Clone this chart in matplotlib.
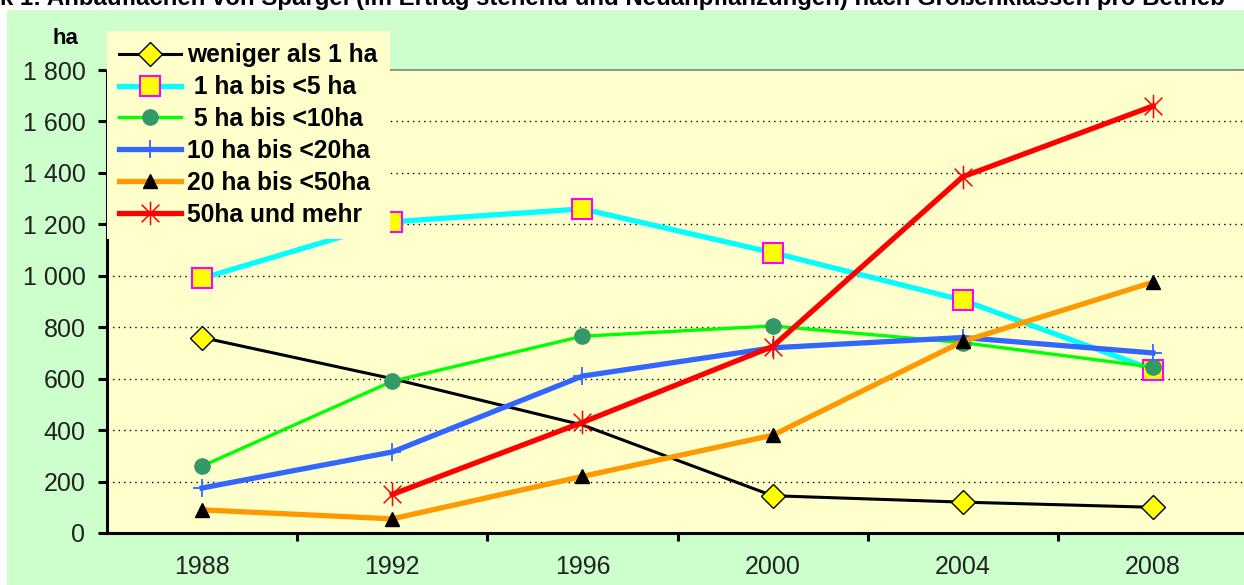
"""Anbauflächen von Spargel nach Größenklassen pro Betrieb."""
import matplotlib
matplotlib.use("Agg")
import matplotlib.pyplot as plt
from matplotlib.patches import Rectangle
from matplotlib.path import Path
from matplotlib.ticker import FuncFormatter, FixedLocator

plt.rcParams["font.family"] = ["Liberation Sans", "DejaVu Sans"]

# Data
years = ["1988", "1992", "1996", "2000", "2004", "2008"]
labels = ["weniger als 1 ha", " 1 ha bis <5 ha", " 5 ha bis <10ha",
          "10 ha bis <20ha", "20 ha bis <50ha", "50ha und mehr"]
unter_1 = [760, 600, 420, 145, 120, 100]
ha_1_5 = [990, 1210, 1260, 1090, 905, 635]
ha_5_10 = [260, 590, 765, 805, 740, 645]
ha_10_20 = [175, 315, 610, 720, 760, 700]
ha_20_50 = [90, 55, 220, 380, 745, 975]
ha_50_plus = [None, 150, 430, 725, 1385, 1660]
y_ticks = [0, 200, 400, 600, 800, 1000, 1200, 1400, 1600, 1800]

W, H = 1244, 585
fig = plt.figure(figsize=(W / 100, H / 100), dpi=100)
fig.patch.set_facecolor("white")

# green chart background
fig.patches.append(Rectangle((7 / W, 0), 1, 1 - 10 / H, transform=fig.transFigure,
                             facecolor="#CCFFCC", edgecolor="none", zorder=-10))

fig.text(1225 / W, 1 - 5 / H,
         "Grafik 1: Anbauflächen von Spargel (im Ertrag stehend und Neuanpflanzungen) "
         "nach Größenklassen pro Betrieb",
         ha="right", va="baseline", fontsize=17.3, fontweight="bold")

ax = fig.add_axes([107 / W, 52 / H, (1248 - 107) / W, (533 - 70) / H])
ax.set_facecolor("#FFFFCC")

# excel like star marker: vertical bar plus an x
star = Path([(0, -1), (0, 1), (-0.75, -0.75), (0.75, 0.75), (-0.75, 0.75), (0.75, -0.75)],
            [Path.MOVETO, Path.LINETO, Path.MOVETO, Path.LINETO, Path.MOVETO, Path.LINETO])

x = list(range(len(years)))
styles = [
    dict(color="black", lw=2.2, marker="D", ms=12, mfc="#FFFF00", mec="black", mew=1,
         markevery=[0, 3, 4, 5]),
    dict(color="#00FFFF", lw=3.8, marker="s", ms=15, mfc="#FFFF00", mec="#FF00FF", mew=1.5),
    dict(color="#00FF00", lw=2.4, marker="o", ms=11, mfc="#339966", mec="#339966"),
    dict(color="#3366FF", lw=3.8, marker="+", ms=13, mec="#3366FF", mew=1.3),
    dict(color="#FF9900", lw=3.8, marker="^", ms=10, mfc="black", mec="black"),
    dict(color="#FF0000", lw=3.8, marker=star, ms=17, mec="#FF0000", mew=1.1),
]
series = [unter_1, ha_1_5, ha_5_10, ha_10_20, ha_20_50, ha_50_plus]
for vals, lab, st in zip(series, labels, styles):
    xs = [i for i, v in zip(x, vals) if v is not None]
    ys = [v for v in vals if v is not None]
    ax.plot(xs, ys, label=lab, zorder=3, **st)

ax.set_xlim(-0.5, 5.5)
ax.set_ylim(0, 1800)
ax.set_yticks(y_ticks)
ax.yaxis.set_major_formatter(FuncFormatter(lambda v, p: f"{int(v):,}".replace(",", " ")))
ax.set_xticks(x)
ax.set_xticklabels(years)
ax.xaxis.set_minor_locator(FixedLocator([i + 0.5 for i in x]))

for v in y_ticks[1:-1]:
    ax.axhline(v, color="black", lw=1, ls=(0, (1, 3)), zorder=1)

ax.tick_params(axis="y", direction="out", length=6.5, width=2.2, pad=9,
               labelsize=18, labelcolor="#222222")
ax.tick_params(axis="x", which="major", length=0, pad=16, labelsize=18,
               labelcolor="#222222")
ax.tick_params(axis="x", which="minor", direction="out", length=6, width=2.2)

ax.spines["left"].set_linewidth(2.2)
ax.spines["bottom"].set_linewidth(2.2)
ax.spines["top"].set_color("#808080")
ax.spines["top"].set_linewidth(1.2)
ax.spines["right"].set_visible(False)

fig.text(65 / W, 1 - 39 / H, "ha", ha="center", va="center", fontsize=16, fontweight="bold")

leg = fig.legend(loc="upper left", bbox_to_anchor=(107 / W, 1 - 31 / H),
                 prop=dict(size=17.7, weight="bold"), frameon=True, fancybox=False,
                 facecolor="#FFFFCC", edgecolor="none", framealpha=1,
                 handlelength=2.5, handletextpad=0.25, labelspacing=0.32,
                 borderpad=0.5, borderaxespad=0)

fig.savefig("out.png", dpi=100, facecolor=fig.get_facecolor())
